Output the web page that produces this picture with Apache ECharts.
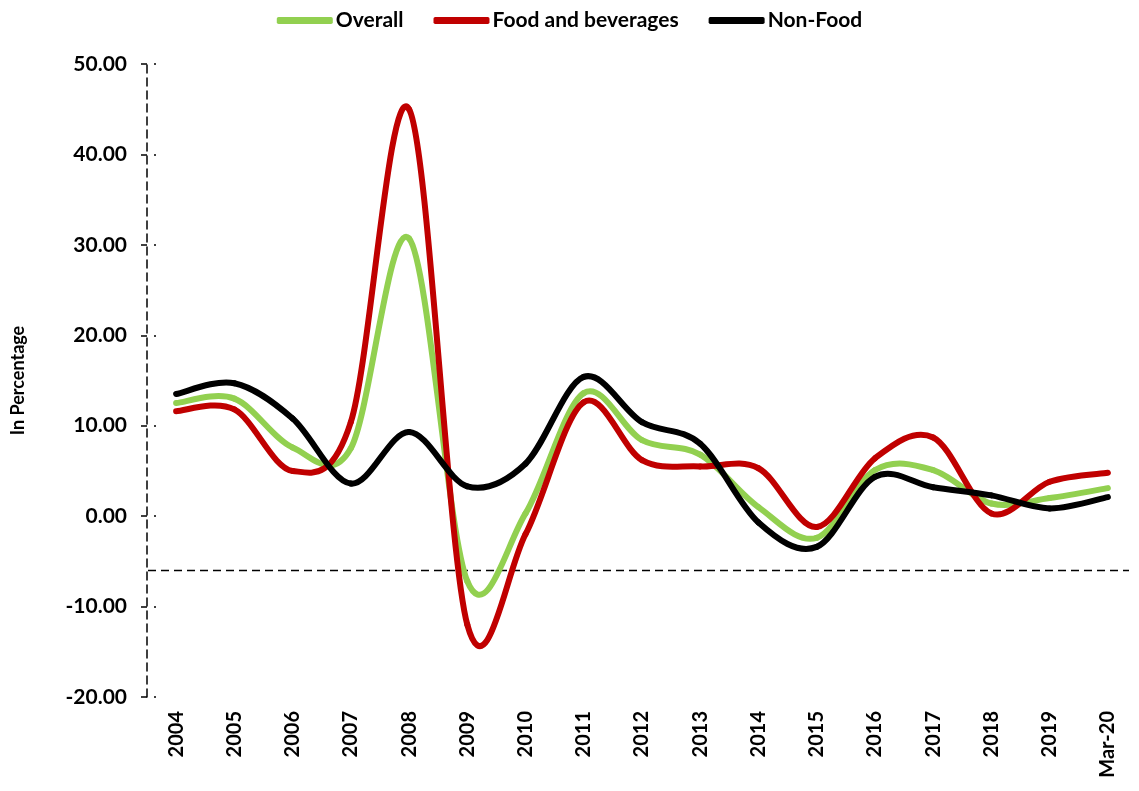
<!DOCTYPE html>
<html>
<head>
<meta charset="utf-8">
<script src="https://cdn.jsdelivr.net/npm/echarts@6/dist/echarts.min.js"></script>
<style>
    html, body { margin: 0; padding: 0; background: #fff; }
    #chart { width: 1139px; height: 791px; }
</style>
</head>
<body>
<div id="chart"></div>
<script>
// categories on the x axis
var years = ['2004', '2005', '2006', '2007', '2008', '2009', '2010', '2011', '2012',
    '2013', '2014', '2015', '2016', '2017', '2018', '2019', 'Mar-20'];

// inflation, in percentage
var overall = [12.5, 13.0, 7.6, 7.5, 30.7, -7.2, 0.3, 13.6, 8.4, 6.8, 1.0, -2.4, 5.1, 5.1, 1.4, 2.0, 3.1];
var foodBev = [11.6, 11.8, 5.0, 10.4, 45.0, -12.0, -2.0, 12.6, 6.2, 5.5, 5.3, -1.2, 6.4, 8.7, 0.3, 3.8, 4.8];
var nonFood = [13.5, 14.7, 10.8, 3.6, 9.3, 3.3, 5.8, 15.4, 10.4, 8.0, -0.7, -3.4, 4.35, 3.2, 2.3, 0.85, 2.1];

// where the horizontal axis crosses
var crossAt = [-6];

var font = 'Lato';

// excel-like smoothed line: one cardinal bezier segment per point
function curveSeries(name, values, color) {
    return {
        name: name,
        type: 'custom',
        data: values.map(function (v, i) { return [i, v]; }),
        encode: { x: 0, y: 1 },
        itemStyle: { color: color },
        renderItem: function (params, api) {
            var i = params.dataIndex;
            var n = values.length;
            if (i >= n - 1) {
                return null;
            }
            var pt = function (j) {
                j = Math.max(0, Math.min(n - 1, j));
                return api.coord([j, values[j]]);
            };
            var p0 = pt(i - 1), p1 = pt(i), p2 = pt(i + 1), p3 = pt(i + 2);
            return {
                type: 'bezierCurve',
                shape: {
                    x1: p1[0], y1: p1[1],
                    x2: p2[0], y2: p2[1],
                    cpx1: p1[0] + (p2[0] - p0[0]) / 6,
                    cpy1: p1[1] + (p2[1] - p0[1]) / 6,
                    cpx2: p2[0] - (p3[0] - p1[0]) / 6,
                    cpy2: p2[1] - (p3[1] - p1[1]) / 6
                },
                style: { stroke: color, lineWidth: 6, fill: null, lineCap: 'round' }
            };
        }
    };
}

// dashed horizontal axis line across the plot
var crossSeries = {
    type: 'custom',
    silent: true,
    data: crossAt.map(function (v) { return [0, v]; }),
    encode: { x: 0, y: 1 },
    renderItem: function (params, api) {
        var cs = params.coordSys;
        var y = api.coord([0, api.value(1)])[1];
        return {
            type: 'line',
            shape: { x1: cs.x + 1, y1: y, x2: cs.x + cs.width - 8, y2: y },
            style: { stroke: '#000', lineWidth: 1.5, lineDash: [8, 5] }
        };
    }
};

var option = {
    backgroundColor: '#fff',
    animation: false,
    textStyle: { fontFamily: font },
    legend: {
        top: 5,
        left: 'center',
        itemWidth: 56,
        itemHeight: 7,
        itemGap: 30,
        icon: 'roundRect',
        textStyle: { fontFamily: font, fontWeight: 'bold', fontSize: 21, color: '#000', padding: [0, 0, 0, -2] },
        data: ['Overall', 'Food and beverages', 'Non-Food']
    },
    grid: {
        left: 147,
        right: 2,
        top: 64,
        bottom: 94,
        containLabel: false
    },
    xAxis: {
        type: 'category',
        data: years,
        boundaryGap: true,
        axisLine: { show: false },
        axisTick: { show: false },
        axisLabel: {
            rotate: 90,
            margin: 14,
            interval: 0,
            fontFamily: font,
            fontWeight: 'bold',
            fontSize: 20,
            color: '#000'
        },
        splitLine: { show: false }
    },
    yAxis: [{
        type: 'value',
        min: -20,
        max: 50,
        interval: 10,
        name: 'In Percentage',
        nameLocation: 'middle',
        nameGap: 120,
        nameTextStyle: { fontFamily: font, fontWeight: 'bold', fontSize: 18, color: '#000' },
        axisLine: { show: true, lineStyle: { color: '#000', type: [8, 5], width: 1.5 } },
        axisTick: { show: true, length: 6, lineStyle: { color: '#000', width: 1.5 } },
        axisLabel: {
            margin: 20,
            fontFamily: font,
            fontWeight: 'bold',
            fontSize: 21,
            color: '#000',
            formatter: function (v) { return v.toFixed(2); }
        },
        splitLine: { show: false }
    }, {
        // small dots on the inner side of the ticks
        type: 'value',
        position: 'left',
        min: -20,
        max: 50,
        interval: 10,
        axisLine: { show: false },
        axisLabel: { show: false },
        axisTick: { show: true, inside: true, length: 9, lineStyle: { color: '#000', width: 1.5, type: [0, 7, 2, 100] } },
        splitLine: { show: false }
    }],
    series: [
        crossSeries,
        curveSeries('Overall', overall, '#92D050'),
        curveSeries('Food and beverages', foodBev, '#C00000'),
        curveSeries('Non-Food', nonFood, '#000000')
    ]
};

var chart = echarts.init(document.getElementById('chart'));
chart.setOption(option);
</script>
</body>
</html>
